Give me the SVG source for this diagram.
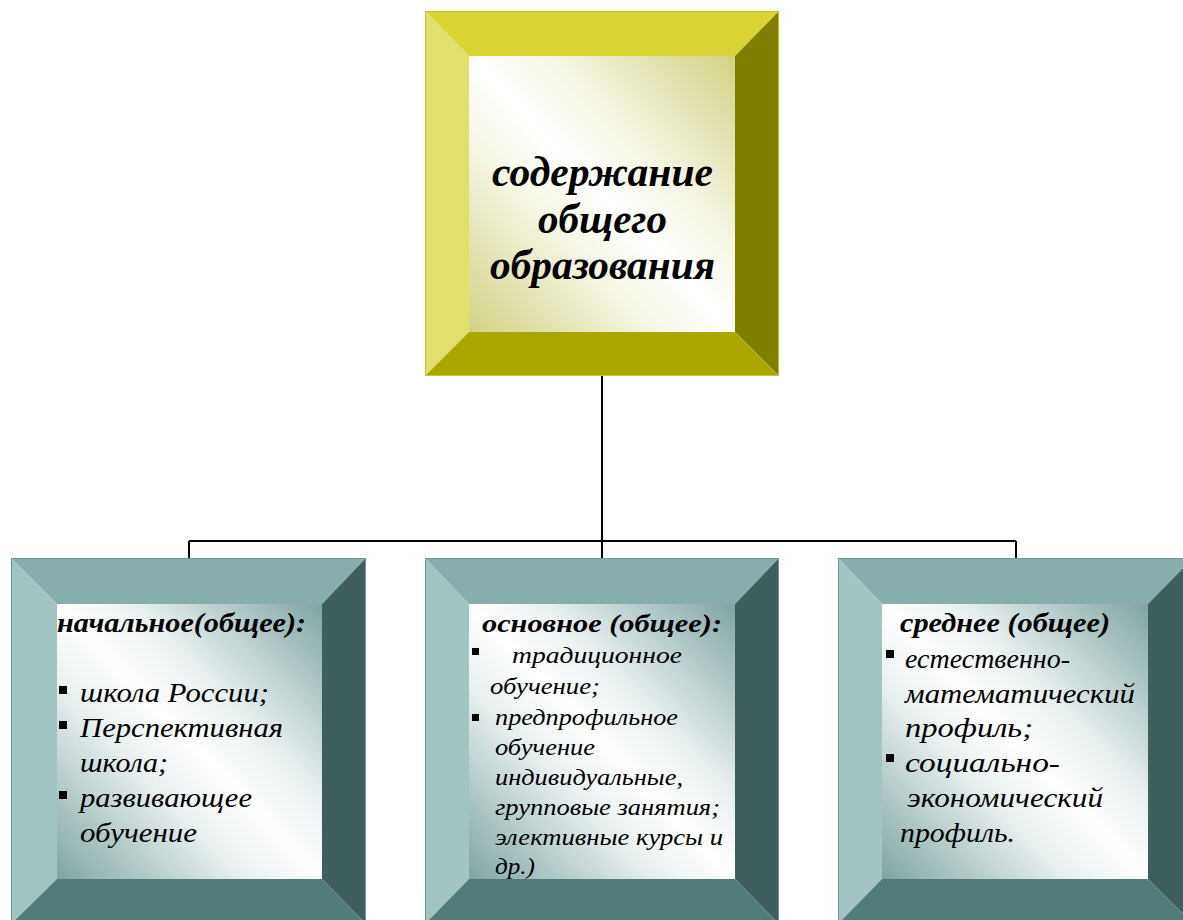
<svg xmlns="http://www.w3.org/2000/svg" width="1183" height="920" viewBox="0 0 1183 920">
<defs>
<linearGradient id="gy" x1="1" y1="0" x2="0" y2="1">
<stop offset="0" stop-color="#d2d283"/>
<stop offset="0.35" stop-color="#f6f6e6"/>
<stop offset="0.5" stop-color="#ffffff"/>
<stop offset="0.65" stop-color="#f6f6e6"/>
<stop offset="1" stop-color="#d2d283"/>
</linearGradient>
<linearGradient id="gt" x1="1" y1="0" x2="0" y2="1">
<stop offset="0" stop-color="#7fa4a2"/>
<stop offset="0.35" stop-color="#e8efef"/>
<stop offset="0.5" stop-color="#ffffff"/>
<stop offset="0.65" stop-color="#e8efef"/>
<stop offset="1" stop-color="#7fa4a2"/>
</linearGradient>
</defs>
<style>
.yt{fill:#d8d433}.yl{fill:#e0e06a}.yr{fill:#7f7f00}.yb{fill:#a9a800}
.tt{fill:#86aeac}.tl{fill:#a2c4c3}.tr{fill:#3e5f5d}.tb{fill:#527c7a}
.yo{fill:none;stroke:#c8c820;stroke-width:1}
.to{fill:none;stroke:#6e9896;stroke-width:1}
.h{font-family:"Liberation Serif",serif;font-weight:bold;font-style:italic;fill:#000}
.b{font-family:"Liberation Serif",serif;font-style:italic;fill:#000}
.sq{fill:#000}
.conn{fill:none;stroke:#000;stroke-width:2}
</style>
<g id="connectors">
<path class="conn" d="M602 376 V541 M189 541 H1016 M189 541 V558 M602 541 V558 M1016 541 V558"/>
</g>
<g id="node-top">
<polygon class="yt" points="425,11 779,11 735,56 469,56"/>
<polygon class="yl" points="425,11 469,56 469,332 425,376"/>
<polygon class="yr" points="779,11 779,376 735,332 735,56"/>
<polygon class="yb" points="425,376 779,376 735,332 469,332"/>
<rect x="469" y="56" width="266" height="276" fill="url(#gy)"/>
<rect class="yo" x="425.5" y="11.5" width="353" height="364"/>
<text class="h" font-size="42" lengthAdjust="spacingAndGlyphs" x="492" y="186" textLength="221">содержание</text>
<text class="h" font-size="42" lengthAdjust="spacingAndGlyphs" x="538" y="233" textLength="129">общего</text>
<text class="h" font-size="42" lengthAdjust="spacingAndGlyphs" x="490" y="279" textLength="225">образования</text>
</g>
<g id="node-left">
<polygon class="tt" points="11,558 366,558 322,604 57,604"/>
<polygon class="tl" points="11,558 57,604 57,879 11,924"/>
<polygon class="tr" points="366,558 366,924 322,879 322,604"/>
<polygon class="tb" points="11,924 366,924 322,879 57,879"/>
<rect x="57" y="604" width="265" height="275" fill="url(#gt)"/>
<rect class="to" x="11.5" y="558.5" width="354" height="366"/>
<text class="h" font-size="28" lengthAdjust="spacingAndGlyphs" x="57" y="632" textLength="249">начальное(общее):</text>
<rect class="sq" x="59" y="686" width="8" height="8"/>
<rect class="sq" x="59" y="721" width="8" height="8"/>
<rect class="sq" x="59" y="791" width="8" height="8"/>
<g class="b" font-size="28" lengthAdjust="spacingAndGlyphs">
<text class="b" font-size="28" lengthAdjust="spacingAndGlyphs" x="80" y="702" textLength="189">школа России;</text>
<text class="b" font-size="28" lengthAdjust="spacingAndGlyphs" x="80" y="737" textLength="203">Перспективная</text>
<text class="b" font-size="28" lengthAdjust="spacingAndGlyphs" x="80" y="772" textLength="88">школа;</text>
<text class="b" font-size="28" lengthAdjust="spacingAndGlyphs" x="80" y="807" textLength="172">развивающее</text>
<text class="b" font-size="28" lengthAdjust="spacingAndGlyphs" x="80" y="842" textLength="117">обучение</text>
</g>
</g>
<g id="node-middle">
<polygon class="tt" points="425,558 779,558 735,604 469,604"/>
<polygon class="tl" points="425,558 469,604 469,879 425,924"/>
<polygon class="tr" points="779,558 779,924 735,879 735,604"/>
<polygon class="tb" points="425,924 779,924 735,879 469,879"/>
<rect x="469" y="604" width="266" height="275" fill="url(#gt)"/>
<rect class="to" x="425.5" y="558.5" width="353" height="366"/>
<text class="h" font-size="26" lengthAdjust="spacingAndGlyphs" x="482" y="632" textLength="240">основное (общее):</text>
<rect class="sq" x="472" y="648" width="7" height="7"/>
<rect class="sq" x="472" y="714" width="7" height="7"/>
<text class="b" font-size="23" lengthAdjust="spacingAndGlyphs" x="512" y="663" textLength="170">традиционное</text>
<text class="b" font-size="23" lengthAdjust="spacingAndGlyphs" x="490" y="694" textLength="110">обучение;</text>
<text class="b" font-size="23" lengthAdjust="spacingAndGlyphs" x="495" y="725" textLength="183">предпрофильное</text>
<text class="b" font-size="23" lengthAdjust="spacingAndGlyphs" x="495" y="755" textLength="100">обучение</text>
<text class="b" font-size="23" lengthAdjust="spacingAndGlyphs" x="495" y="785" textLength="188">индивидуальные,</text>
<text class="b" font-size="23" lengthAdjust="spacingAndGlyphs" x="495" y="815" textLength="225">групповые занятия;</text>
<text class="b" font-size="23" lengthAdjust="spacingAndGlyphs" x="495" y="845" textLength="228">элективные курсы и</text>
<text class="b" font-size="23" lengthAdjust="spacingAndGlyphs" x="495" y="874" textLength="40">др.)</text>
</g>
<g id="node-right">
<polygon class="tt" points="838,558 1193,558 1148,604 882,604"/>
<polygon class="tl" points="838,558 882,604 882,879 838,924"/>
<polygon class="tr" points="1193,558 1193,924 1148,879 1148,604"/>
<polygon class="tb" points="838,924 1193,924 1148,879 882,879"/>
<rect x="882" y="604" width="266" height="275" fill="url(#gt)"/>
<rect class="to" x="838.5" y="558.5" width="354" height="366"/>
<text class="h" font-size="27" lengthAdjust="spacingAndGlyphs" x="900" y="632" textLength="210">среднее (общее)</text>
<rect class="sq" x="886" y="650" width="8" height="8"/>
<rect class="sq" x="886" y="754" width="8" height="8"/>
<text class="b" font-size="27" lengthAdjust="spacingAndGlyphs" x="905" y="668" textLength="165">естественно-</text>
<text class="b" font-size="27" lengthAdjust="spacingAndGlyphs" x="905" y="703" textLength="230">математический</text>
<text class="b" font-size="27" lengthAdjust="spacingAndGlyphs" x="905" y="737" textLength="128">профиль;</text>
<text class="b" font-size="27" lengthAdjust="spacingAndGlyphs" x="905" y="772" textLength="155">социально-</text>
<text class="b" font-size="27" lengthAdjust="spacingAndGlyphs" x="907" y="807" textLength="196">экономический</text>
<text class="b" font-size="27" lengthAdjust="spacingAndGlyphs" x="900" y="842" textLength="115">профиль.</text>
</g>
</svg>
